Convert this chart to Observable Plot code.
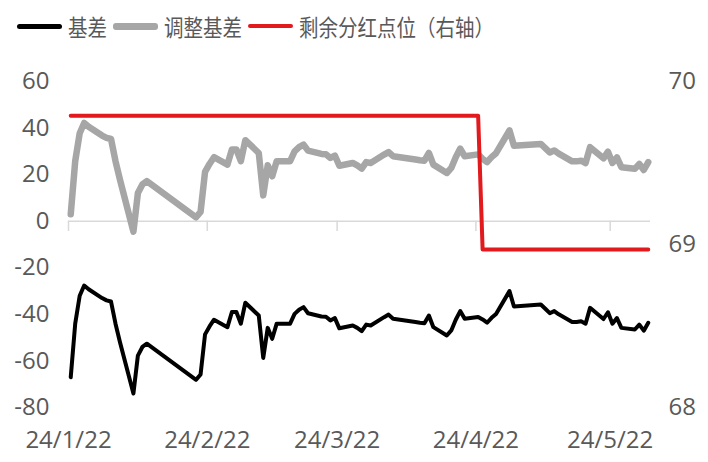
<!DOCTYPE html>
<html><head><meta charset="utf-8">
<script src="https://cdn.jsdelivr.net/npm/d3@7"></script>
<script src="https://cdn.jsdelivr.net/npm/@observablehq/plot@0.6"></script>
<style>
html,body{margin:0;padding:0;background:#fff;}
#legend{height:55px;box-sizing:border-box;padding:0 0 3px 17px;display:flex;align-items:center;font-family:"Noto Sans CJK SC","Noto Sans",sans-serif;font-size:19.5px;color:#595959;white-space:nowrap;}
.sw{display:inline-block;width:45px;margin-right:6px;border-radius:3px;}
.lab{display:inline-block;margin-right:6px;transform:scaleY(1.15);}
#chart svg{display:block;}
</style></head><body>
<div id="legend"></div>
<div id="chart"></div>
<script>
// ---- data ----
const dates = [
"2024-01-22","2024-01-23","2024-01-24","2024-01-25","2024-01-26","2024-01-29","2024-01-30","2024-01-31",
"2024-02-01","2024-02-02","2024-02-05","2024-02-06","2024-02-07","2024-02-08","2024-02-19","2024-02-20","2024-02-21","2024-02-22","2024-02-23","2024-02-26","2024-02-27","2024-02-28","2024-02-29",
"2024-03-01","2024-03-04","2024-03-05","2024-03-06","2024-03-07","2024-03-08","2024-03-11","2024-03-12","2024-03-13","2024-03-14","2024-03-15","2024-03-18","2024-03-19","2024-03-20","2024-03-21","2024-03-22","2024-03-25","2024-03-26","2024-03-27","2024-03-28","2024-03-29",
"2024-04-01","2024-04-02","2024-04-03","2024-04-08","2024-04-09","2024-04-10","2024-04-11","2024-04-12","2024-04-15","2024-04-16","2024-04-17","2024-04-18","2024-04-19","2024-04-22","2024-04-23","2024-04-24","2024-04-25","2024-04-26","2024-04-29","2024-04-30",
"2024-05-06","2024-05-07","2024-05-08","2024-05-09","2024-05-10","2024-05-13","2024-05-14","2024-05-15","2024-05-16","2024-05-17","2024-05-20","2024-05-21","2024-05-22","2024-05-23","2024-05-24","2024-05-27","2024-05-28","2024-05-29","2024-05-30"
];
const basis = [
-67,-44,-32,-27.6,-29.2,-33,-34,-34.5,
-44,-52,-74,-57.7,-54,-52.6,-68.1,-65.8,-48.6,-45.2,-42.3,-45.5,-39,-39,-44,
-35,-40.5,-58.7,-45.8,-50.5,-44,-44,-39.8,-38,-36.9,-39.5,-40.9,-41,-42.6,-41.6,-46,-44.8,-45.8,-47.2,-44.4,-44.8,
-41.2,-40.1,-41.9,-43.3,-43.6,-43.8,-40.5,-45.5,-49.1,-46.9,-42.3,-38.6,-41.9,-41.1,-42.2,-43.6,-41.5,-39.8,-30,-36.6,
-35.8,-37.6,-39.5,-38.6,-40,-43.3,-43.3,-43,-44,-37.2,-42,-39.1,-44,-41.6,-45.8,-46.5,-44.4,-47,-43.6
];
const adjBasis = [
3,25.8,37.8,42.2,40.6,36.8,35.8,35.3,
25.8,17.8,-4.5,12.1,15.8,17.2,1.7,4.0,21.2,24.6,27.5,24.3,30.8,30.8,25.8,
34.8,29.3,11.1,24.0,19.3,25.8,25.8,30.0,31.8,32.9,30.3,28.9,28.8,27.2,28.2,23.8,25.0,24.0,22.6,25.4,25.0,
28.6,29.7,27.9,26.5,26.2,26.0,29.3,24.3,20.7,22.9,27.5,31.2,27.9,28.7,26.8,25.4,27.5,29.2,39.0,32.4,
33.2,31.4,29.5,30.4,29.0,25.7,25.7,26.0,25.0,31.8,27.0,29.9,25.0,27.4,23.2,22.5,24.6,22.0,25.4
];
const dividendDates = ["2024-01-22","2024-04-22","2024-04-23","2024-05-30"];
const dividendValues = [69.79,69.79,68.97,68.97];

const seriesNames = ["基差","调整基差","剩余分红点位（右轴）"];
const seriesColors = ["#000000","#a6a6a6","#e2191d"];
const leftTicks = [-80,-60,-40,-20,0,20,40,60];
const rightTicks = [68,69,70];
const xTickDates = ["2024-01-22","2024-02-22","2024-03-22","2024-04-22","2024-05-22"];
const xTickLabels = ["24/1/22","24/2/22","24/3/22","24/4/22","24/5/22"];
const xDomain = ["2024-01-22","2024-05-31"];

// ---- build ----
const parse = d3.utcParse("%Y-%m-%d");
const mid = s => new Date(+parse(s) + 12 * 3600 * 1000);
const rows = dates.map((d, i) => ({date: mid(d), basis: basis[i], adj: adjBasis[i]}));
const redRows = dividendDates.map((d, i) => ({date: mid(d), v: dividendValues[i]}));
const L0 = leftTicks[0], L1 = leftTicks[leftTicks.length - 1];
const R0 = rightTicks[0], R1 = rightTicks[rightTicks.length - 1];
const toLeft = v => L0 + (v - R0) * (L1 - L0) / (R1 - R0);
const rightLabel = new Map(rightTicks.map(v => [toLeft(v), String(v)]));
const xLabel = new Map(xTickDates.map((d, i) => [+parse(d), xTickLabels[i]]));
const xTicks = xTickDates.map(parse);

const legend = document.getElementById("legend");
const widths = [5, 7, 4];
seriesNames.forEach((n, i) => {
  const sw = document.createElement("span");
  sw.className = "sw";
  sw.style.background = seriesColors[i];
  sw.style.height = widths[i] + "px";
  const t = document.createElement("span");
  t.className = "lab";
  t.textContent = n;
  legend.appendChild(sw);
  legend.appendChild(t);
});

const chart = Plot.plot({
  width: 708,
  height: 407,
  marginTop: 26,
  marginBottom: 55,
  marginLeft: 68,
  marginRight: 58,
  style: {fontFamily: "'Open Sans', sans-serif", fontSize: "24px", color: "#595959", background: "#fff", overflow: "visible"},
  x: {type: "utc", domain: xDomain.map(parse)},
  y: {domain: [L0, L1]},
  marks: [
    Plot.ruleY([0], {stroke: "#d9d9d9", strokeWidth: 1.5}),
    Plot.ruleX(xTicks, {x: d => d, y1: 0, y2: -4.4, stroke: "#d9d9d9", strokeWidth: 1.5}),
    Plot.axisX(xTicks, {anchor: "bottom", tickSize: 0, tickPadding: 23, tickFormat: d => xLabel.get(+d), label: null}),
    Plot.axisY(leftTicks, {anchor: "left", tickSize: 0, tickPadding: 19, tickFormat: d => String(d), label: null}),
    Plot.axisY(rightTicks.map(toLeft), {anchor: "right", tickSize: 0, tickPadding: 18, tickFormat: d => rightLabel.get(d), label: null}),
    Plot.line(rows, {x: "date", y: "adj", stroke: seriesColors[1], strokeWidth: 6.5, strokeLinejoin: "round", strokeLinecap: "round"}),
    Plot.line(rows, {x: "date", y: "basis", stroke: seriesColors[0], strokeWidth: 4, strokeLinejoin: "round", strokeLinecap: "round"}),
    Plot.line(redRows, {x: "date", y: d => toLeft(d.v), stroke: seriesColors[2], strokeWidth: 4, strokeLinejoin: "round", strokeLinecap: "round"})
  ]
});
document.getElementById("chart").appendChild(chart);
</script>
</body></html>
